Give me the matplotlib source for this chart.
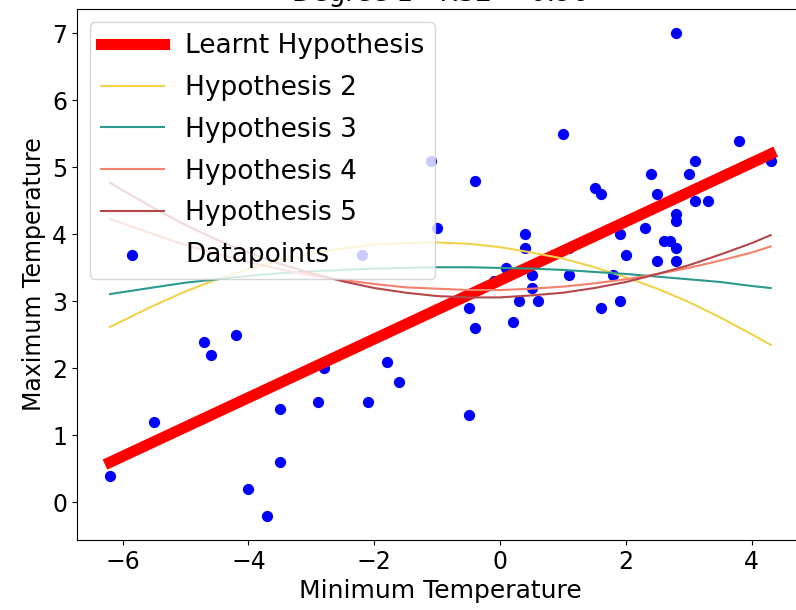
import matplotlib
matplotlib.use("Agg")
import matplotlib.pyplot as plt

# Datapoints (min temp, max temp)
min_temp = [-6.2, -5.5, -4.7, -4.6, -4.2, -4.0, -3.7, -3.5, -3.5, -2.8, -2.9,
            -2.1, -1.8, -1.6, -2.2, -1.1, -1.0, -0.4, -0.5, -0.5, -0.4, -0.1,
            0.1, 0.3, 0.2, 0.5, 0.6, 0.4, 0.4, 0.5, 1.0, 1.1, 1.1, 1.5, 1.6,
            1.8, 1.6, 1.9, 1.9, 2.0, 2.3, 2.4, 2.5, 2.5, 2.6, 2.7, 2.8, 2.8,
            2.8, 2.8, 2.8, 3.0, 3.1, 3.1, 3.3, 3.8, 4.3]
max_temp = [0.4, 1.2, 2.4, 2.2, 2.5, 0.2, -0.2, 1.4, 0.6, 2.0, 1.5,
            1.5, 2.1, 1.8, 3.7, 5.1, 4.1, 4.8, 1.3, 2.9, 2.6, 3.3,
            3.5, 3.0, 2.7, 3.2, 3.0, 4.0, 3.8, 3.4, 5.5, 3.8, 3.4, 4.7, 4.6,
            3.4, 2.9, 3.0, 4.0, 3.7, 4.1, 4.9, 4.6, 3.6, 3.9, 3.9, 3.8, 4.3,
            4.2, 3.6, 7.0, 4.9, 5.1, 4.5, 4.5, 5.4, 5.1]

# learnt (degree 1) hypothesis end points
learnt_x = [-6.2, 4.3]
learnt_y = [0.6, 5.2]

# other hypotheses, values
curve_x = [-6.2, -5.5, -5, -4.5, -4, -3.5, -3, -2.5, -2, -1.5, -1, -0.5,
           0, 0.5, 1, 1.5, 2, 2.5, 3, 3.5, 4, 4.3]
hyp2 = [2.62, 2.94, 3.15, 3.33, 3.48, 3.61, 3.72, 3.79, 3.85, 3.87, 3.88, 3.86,
        3.81, 3.73, 3.64, 3.51, 3.36, 3.19, 2.99, 2.76, 2.51, 2.35]
hyp3 = [3.11, 3.21, 3.28, 3.33, 3.38, 3.42, 3.45, 3.47, 3.49, 3.50, 3.51, 3.51,
        3.50, 3.49, 3.47, 3.44, 3.41, 3.37, 3.33, 3.29, 3.23, 3.20]
hyp4 = [4.23, 4.00, 3.84, 3.71, 3.59, 3.48, 3.39, 3.32, 3.26, 3.21, 3.19, 3.17,
        3.17, 3.19, 3.22, 3.27, 3.33, 3.41, 3.50, 3.61, 3.73, 3.82]
hyp5 = [4.77, 4.39, 4.14, 3.92, 3.73, 3.56, 3.42, 3.30, 3.20, 3.13, 3.08, 3.06,
        3.06, 3.09, 3.13, 3.20, 3.29, 3.41, 3.54, 3.70, 3.87, 3.99]

plt.rcParams['font.size'] = 17

fig = plt.figure(figsize=(7.96, 6.10), dpi=100)
ax = fig.add_axes([0.0967, 0.1148, 0.913, 0.870])

pts = ax.scatter(min_temp, max_temp, color='blue', s=50, label='Datapoints')
l1, = ax.plot(learnt_x, learnt_y, color='red', linewidth=8, label='Learnt Hypothesis')
l2, = ax.plot(curve_x, hyp2, color='#f2d24a', linewidth=1.5, label='Hypothesis 2')
l3, = ax.plot(curve_x, hyp3, color='#2a9a8f', linewidth=1.5, label='Hypothesis 3')
l4, = ax.plot(curve_x, hyp4, color='#f4806e', linewidth=1.5, label='Hypothesis 4')
l5, = ax.plot(curve_x, hyp5, color='#b5474b', linewidth=1.5, label='Hypothesis 5')

ax.set_xlim(-6.725, 4.825)
ax.set_ylim(-0.56, 7.36)
ax.set_xticks([-6, -4, -2, 0, 2, 4])
ax.set_yticks(range(0, 8))

ax.set_title("Degree 1 - RSE = 0.96", fontsize=19)
ax.set_xlabel("Minimum Temperature", fontsize=18)
ax.set_ylabel("Maximum Temperature", fontsize=17)
ax.legend(handles=[l1, l2, l3, l4, l5, pts], loc='upper left', fontsize=19,
          handlelength=2.4, labelspacing=0.6, scatterpoints=1)

fig.savefig("out.png", dpi=100)
